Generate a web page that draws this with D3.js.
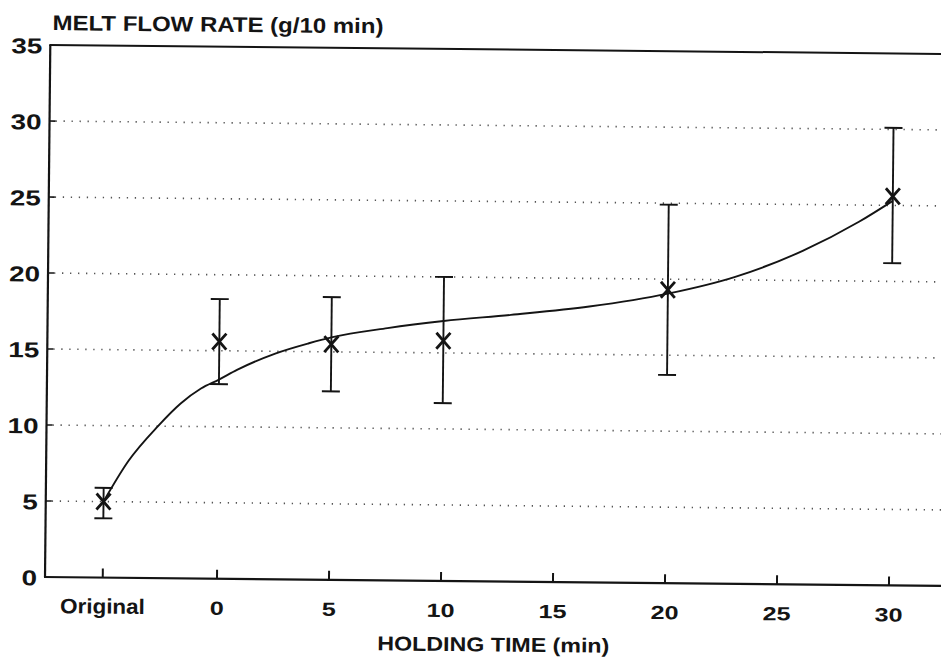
<!DOCTYPE html>
<html>
<head>
<meta charset="utf-8">
<script src="https://cdn.jsdelivr.net/npm/d3@7/dist/d3.min.js"></script>
<style>
  html, body { margin: 0; padding: 0; background: #fff; }
  svg { display: block; }
  text { font-family: "Liberation Sans", Arial, sans-serif; font-weight: bold; fill: #141414; }
</style>
</head>
<body>
<svg id="chart" width="941" height="660"></svg>
<script>
// ---- data ----
const categories = ["Original", "0", "5", "10", "20", "30"];
const xPositions = [-5.1, 0, 5, 10, 20, 30];          // holding time position on axis
const meanMFR    = [5.0, 15.6, 15.5, 15.8, 19.3, 25.6];
const lowMFR     = [3.9, 12.8, 12.4, 11.7, 13.7, 21.2];
const highMFR    = [5.9, 18.4, 18.6, 20.0, 24.9, 30.1];

// fitted trend curve (x = holding time, y = MFR)
const curveX = [-5.1, -4.0, -2.7, -1.7, -0.8, 0, 0.8, 2.5, 4.0, 5.0, 7.5, 10, 13, 16.5, 20, 23, 26, 28.5, 30];
const curveY = [5.0, 7.7, 10.0, 11.5, 12.5, 13.1, 13.75, 14.85, 15.55, 15.95, 16.6, 17.1, 17.55, 18.15, 19.05, 20.2, 21.95, 23.9, 25.3];

const xTickValues = [-5.1, 0, 5, 10, 15, 20, 25, 30];
const xTickLabels = ["Original", "0", "5", "10", "15", "20", "25", "30"];
const yTickValues = [0, 5, 10, 15, 20, 25, 30, 35];
const gridValues  = [5, 10, 15, 20, 25, 30];

const yTitle = "MELT FLOW RATE (g/10 min)";
const xTitle = "HOLDING TIME (min)";

// ---- layout ----
const svg = d3.select("#chart");
const pLeft = 45, pBottom = 577, pTop = 45, pRight = 975;
const x = d3.scaleLinear().domain([0, 30]).range([217, 889]);
const y = d3.scaleLinear().domain([0, 35]).range([pBottom, pTop]);

const g = svg.append("g").attr("transform", `rotate(0.57, ${pLeft}, ${pBottom})`);
const ink = "#141414";

// gridlines (dotted)
g.append("g").selectAll("line").data(gridValues).join("line")
  .attr("x1", pLeft + 6).attr("x2", pRight)
  .attr("y1", d => y(d)).attr("y2", d => y(d))
  .attr("stroke", "#555").attr("stroke-width", 1.6)
  .attr("stroke-dasharray", "1.3,6.7");

// y ticks (short, inward)
g.append("g").selectAll("line").data(gridValues).join("line")
  .attr("x1", pLeft).attr("x2", pLeft + 6)
  .attr("y1", d => y(d)).attr("y2", d => y(d))
  .attr("stroke", ink).attr("stroke-width", 1.6);

// frame: left axis, top line, bottom axis
g.append("line").attr("x1", pLeft).attr("x2", pLeft).attr("y1", y(35)).attr("y2", y(0))
  .attr("stroke", ink).attr("stroke-width", 2.2);
g.append("line").attr("x1", pLeft - 1).attr("x2", pRight).attr("y1", y(35)).attr("y2", y(35))
  .attr("stroke", ink).attr("stroke-width", 2);
g.append("line").attr("x1", pLeft - 1).attr("x2", pRight).attr("y1", y(0)).attr("y2", y(0))
  .attr("stroke", ink).attr("stroke-width", 2.2);

// x ticks (inward, upward)
g.append("g").selectAll("line").data(xTickValues).join("line")
  .attr("x1", d => x(d)).attr("x2", d => x(d))
  .attr("y1", y(0)).attr("y2", y(0) - 9)
  .attr("stroke", ink).attr("stroke-width", 2);

// y tick labels (wide bold face: stretch glyphs)
g.append("g").selectAll("text").data(yTickValues).join("text")
  .attr("x", 37).attr("y", d => y(d) + 8.5)
  .attr("text-anchor", "end").attr("font-size", 21.5)
  .attr("textLength", d => String(d).length * 15.5)
  .attr("lengthAdjust", "spacingAndGlyphs")
  .text(d => d);

// x tick labels
g.append("g").selectAll("text").data(xTickValues).join("text")
  .attr("x", d => x(d)).attr("y", 613)
  .attr("text-anchor", "middle")
  .attr("font-size", (d, i) => xTickLabels[i].length > 2 ? 21 : 19)
  .attr("textLength", (d, i) => xTickLabels[i].length > 2 ? 85 : xTickLabels[i].length * 14)
  .attr("lengthAdjust", "spacingAndGlyphs")
  .text((d, i) => xTickLabels[i]);

// titles
g.append("text").attr("x", 47).attr("y", 30).attr("font-size", 21)
  .attr("textLength", 331).attr("lengthAdjust", "spacingAndGlyphs")
  .text(yTitle);
g.append("text").attr("x", 494).attr("y", 647).attr("text-anchor", "middle").attr("font-size", 20)
  .attr("textLength", 232).attr("lengthAdjust", "spacingAndGlyphs")
  .text(xTitle);

// fitted curve
const curveData = curveX.map((d, i) => [d, curveY[i]]);
g.append("path").datum(curveData)
  .attr("d", d3.line().x(d => x(d[0])).y(d => y(d[1])).curve(d3.curveMonotoneX))
  .attr("fill", "none").attr("stroke", ink).attr("stroke-width", 1.9);

// error bars
const pts = categories.map((c, i) => ({c, xv: xPositions[i], m: meanMFR[i], lo: lowMFR[i], hi: highMFR[i]}));
const eb = g.append("g").attr("stroke", ink).attr("stroke-width", 1.9).attr("fill", "none");
eb.selectAll(".v").data(pts).join("line").attr("class", "v")
  .attr("x1", d => x(d.xv)).attr("x2", d => x(d.xv))
  .attr("y1", d => y(d.lo)).attr("y2", d => y(d.hi));
eb.selectAll(".ch").data(pts).join("line").attr("class", "ch")
  .attr("x1", d => x(d.xv) - 9).attr("x2", d => x(d.xv) + 9)
  .attr("y1", d => y(d.hi)).attr("y2", d => y(d.hi));
eb.selectAll(".cl").data(pts).join("line").attr("class", "cl")
  .attr("x1", d => x(d.xv) - 9).attr("x2", d => x(d.xv) + 9)
  .attr("y1", d => y(d.lo)).attr("y2", d => y(d.lo));

// X markers
const s = 7;
g.append("g").selectAll("path").data(pts).join("path")
  .attr("d", d => {
    const cx = x(d.xv), cy = y(d.m);
    return `M${cx - s},${cy - s - 1}L${cx + s},${cy + s + 1}M${cx + s},${cy - s - 1}L${cx - s},${cy + s + 1}`;
  })
  .attr("stroke", ink).attr("stroke-width", 2.8).attr("fill", "none");
</script>
</body>
</html>
